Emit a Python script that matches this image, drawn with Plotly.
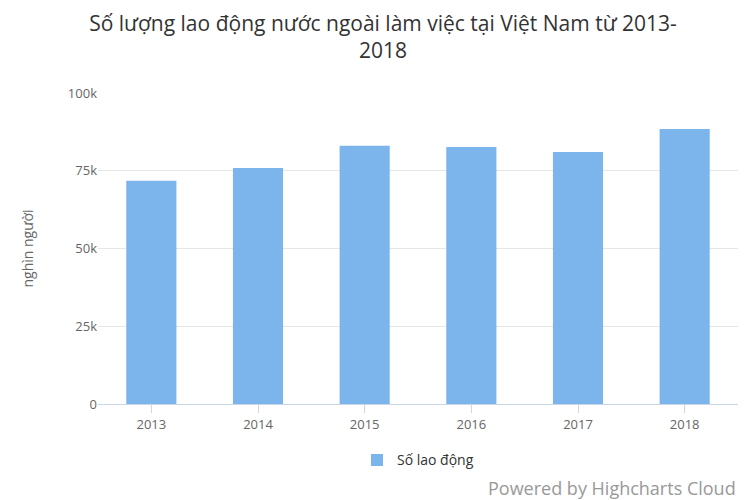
import plotly.graph_objects as go

years = ["2013", "2014", "2015", "2016", "2017", "2018"]
workers = [71800, 75900, 83000, 82600, 81000, 88400]

fig = go.Figure()
fig.add_trace(go.Bar(x=years, y=workers, name="Số lao động",
                     marker=dict(color="#7cb5ec", line=dict(width=0)),
                     width=0.47, showlegend=True))

fig.update_layout(
    width=750, height=500,
    paper_bgcolor="white", plot_bgcolor="white",
    font=dict(family="Open Sans, DejaVu Sans", color="#333"),
    title=dict(text="Số lượng lao động nước ngoài làm việc tại Việt Nam từ 2013-<br>2018",
               x=0.5, xanchor="center", y=0.955, yanchor="top",
               font=dict(size=21, color="#333")),
    margin=dict(l=90, r=20, t=85, b=104),
    bargap=0.5,
    showlegend=True,
    legend=dict(orientation="h", x=0.5, xanchor="center", y=-0.13, yanchor="top",
                font=dict(size=14, color="#333")),
    xaxis=dict(showline=True, linecolor="#ccd6eb", ticks="outside", tickcolor="#ccd6eb",
               ticklen=8, tickfont=dict(size=13, color="#666")),
    yaxis=dict(range=[0, 100000], tickvals=[0, 25000, 50000, 75000, 100000],
               ticktext=["0", "25k", "50k", "75k", "100k"],
               gridcolor="#e6e6e6", zeroline=False,
               tickfont=dict(size=13, color="#666"),
               title=dict(text="nghìn người", standoff=30,
                          font=dict(size=14, color="#666"))),
)
fig.add_annotation(text="Powered by Highcharts Cloud", xref="paper", yref="paper",
                   x=1.0, y=-0.225, xanchor="right", yanchor="top", showarrow=False,
                   font=dict(size=18, color="#999"))
fig.write_html("out.html")
